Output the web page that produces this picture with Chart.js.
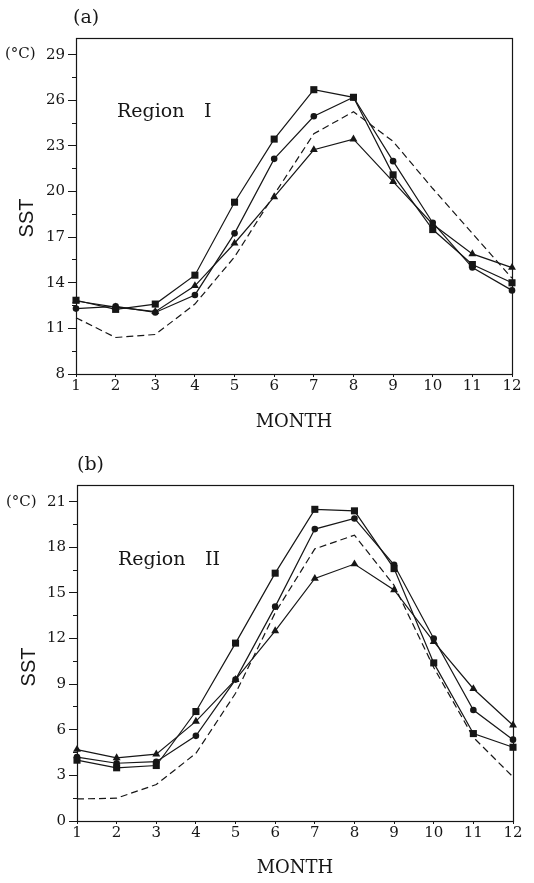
<!DOCTYPE html>
<html>
<head>
<meta charset="utf-8">
<title>SST</title>
<script src="https://cdn.jsdelivr.net/npm/chart.js@4.4.1/dist/chart.umd.min.js"></script>
<style>
  body { margin: 0; background: #fff; }
  .panel { position: absolute; left: 0; }
</style>
</head>
<body>
<div class="panel" style="top:0px"><canvas id="chartA" width="534" height="440"></canvas></div>
<div class="panel" style="top:445px"><canvas id="chartB" width="534" height="438"></canvas></div>
<script>
var months = ['1', '2', '3', '4', '5', '6', '7', '8', '9', '10', '11', '12'];

// Region I
var regionISquare   = [12.85, 12.25, 12.6, 14.5, 19.3, 23.45, 26.7, 26.2, 21.1, 17.5, 15.2, 14.0];
var regionICircle   = [12.3, 12.45, 12.05, 13.2, 17.25, 22.15, 24.95, 26.2, 22.0, 17.95, 15.0, 13.5];
var regionITriangle = [12.8, 12.4, 12.1, 13.8, 16.6, 19.65, 22.75, 23.45, 20.65, 17.85, 15.9, 15.0];
var regionIDashed   = [11.7, 10.4, 10.6, 12.6, 15.7, 19.8, 23.8, 25.25, 23.3, 20.2, 17.25, 14.3];
var regionITicks    = [8, 11, 14, 17, 20, 23, 26, 29];

// Region II
var regionIISquare   = [4.0, 3.5, 3.65, 7.2, 11.7, 16.3, 20.5, 20.4, 16.6, 10.4, 5.75, 4.85];
var regionIICircle   = [4.2, 3.8, 3.9, 5.6, 9.3, 14.1, 19.2, 19.9, 16.85, 12.0, 7.3, 5.35];
var regionIITriangle = [4.7, 4.15, 4.4, 6.55, 9.3, 12.5, 15.95, 16.9, 15.2, 11.8, 8.7, 6.3];
var regionIIDashed   = [1.45, 1.5, 2.4, 4.45, 8.4, 13.7, 17.9, 18.8, 15.5, 10.1, 5.5, 2.9];
var regionIITicks    = [0, 3, 6, 9, 12, 15, 18, 21];

var ink = '#161616';
var serif = 'DejaVu Serif';

function series(values, style, radius, dashed) {
  return {
    data: values,
    borderColor: ink,
    backgroundColor: ink,
    borderWidth: 1.2,
    borderDash: dashed ? [7, 4] : [],
    pointStyle: style,
    pointRadius: dashed ? 0 : radius,
    pointBorderWidth: 0,
    tension: 0,
    clip: false
  };
}

// frame round the plot plus the panel texts
function panelText(t) {
  return {
    id: 'panelText',
    afterDraw: function(chart) {
      var ctx = chart.ctx, a = chart.chartArea;
      ctx.save();
      ctx.strokeStyle = ink;
      ctx.lineWidth = 1.2;
      ctx.strokeRect(Math.round(a.left) + 0.5, Math.round(a.top) + 0.5,
        Math.round(a.right - a.left), Math.round(a.bottom - a.top));

      ctx.fillStyle = ink;
      ctx.textBaseline = 'middle';
      ctx.textAlign = 'left';
      ctx.font = '19px ' + serif;
      ctx.fillText(t.tag, t.tagX, t.tagY);
      ctx.font = '15px ' + serif;
      ctx.fillText('(°C)', t.unitX, t.unitY);

      ctx.textBaseline = 'alphabetic';
      ctx.font = '19px ' + serif;
      ctx.fillText('Region', t.regionX, t.regionY);
      ctx.fillText(t.numeral, t.numeralX, t.regionY);

      ctx.textAlign = 'center';
      ctx.textBaseline = 'middle';
      ctx.font = '18px ' + serif;
      ctx.fillText('MONTH', t.monthX, t.monthY);

      ctx.translate(t.sstX, t.sstY);
      ctx.rotate(-Math.PI / 2);
      ctx.font = '20px "Liberation Sans"';
      ctx.fillText('SST', 0, 0);
      ctx.restore();
    }
  };
}

function makeChart(id, sets, majors, yMin, yMax, box, t) {
  var minors = [];
  for (var i = 0; i < majors.length; i++) {
    minors.push(majors[i]);
    if (i < majors.length - 1) minors.push((majors[i] + majors[i + 1]) / 2);
  }
  return new Chart(document.getElementById(id), {
    type: 'line',
    data: {
      labels: months,
      datasets: [
        series(sets[0], 'rect', 5),
        series(sets[1], 'circle', 3.3),
        series(sets[2], 'triangle', 4.6),
        series(sets[3], false, 0, true)
      ]
    },
    options: {
      responsive: false,
      animation: false,
      events: [],
      layout: { autoPadding: false, padding: { top: box.top, right: box.right, left: 0, bottom: 0 } },
      plugins: { legend: { display: false }, tooltip: { enabled: false } },
      scales: {
        x: {
          offset: false,
          grid: { drawOnChartArea: false, drawTicks: true, tickLength: 3, color: ink, lineWidth: 1 },
          border: { display: false },
          ticks: { color: ink, font: { family: serif, size: 15 }, padding: 0, maxRotation: 0, autoSkip: false },
          afterFit: function(s) { s.height = box.xHeight; }
        },
        y: {
          weight: 1,
          min: yMin,
          max: yMax,
          afterBuildTicks: function(s) { s.ticks = majors.map(function(v) { return { value: v }; }); },
          grid: { drawOnChartArea: false, drawTicks: true, tickLength: 8, color: ink, lineWidth: 1 },
          border: { display: false },
          ticks: { color: ink, font: { family: serif, size: 15 }, padding: 3 },
          afterFit: function(s) { s.width = box.left; }
        },
        yMinor: {
          position: 'left',
          weight: 0,
          min: yMin,
          max: yMax,
          afterBuildTicks: function(s) { s.ticks = minors.map(function(v) { return { value: v }; }); },
          grid: { drawOnChartArea: false, drawTicks: true, tickLength: 4, color: ink, lineWidth: 1 },
          border: { display: false },
          ticks: { display: false },
          afterFit: function(s) { s.width = 0; }
        }
      }
    },
    plugins: [panelText(t)]
  });
}

makeChart('chartA',
  [regionISquare, regionICircle, regionITriangle, regionIDashed],
  regionITicks, 8, 30.1,
  { top: 38, right: 22, left: 76, xHeight: 66 },
  { tag: '(a)', tagX: 73, tagY: 18, unitX: 5, unitY: 54,
    regionX: 117, regionY: 117, numeral: 'I', numeralX: 204,
    monthX: 294, monthY: 422, sstX: 27, sstY: 218 });

makeChart('chartB',
  [regionIISquare, regionIICircle, regionIITriangle, regionIIDashed],
  regionIITicks, 0, 22.1,
  { top: 40, right: 21, left: 77, xHeight: 62 },
  { tag: '(b)', tagX: 77, tagY: 20, unitX: 6, unitY: 57,
    regionX: 118, regionY: 120, numeral: 'II', numeralX: 205,
    monthX: 295, monthY: 423, sstX: 29, sstY: 222 });
</script>
</body>
</html>
